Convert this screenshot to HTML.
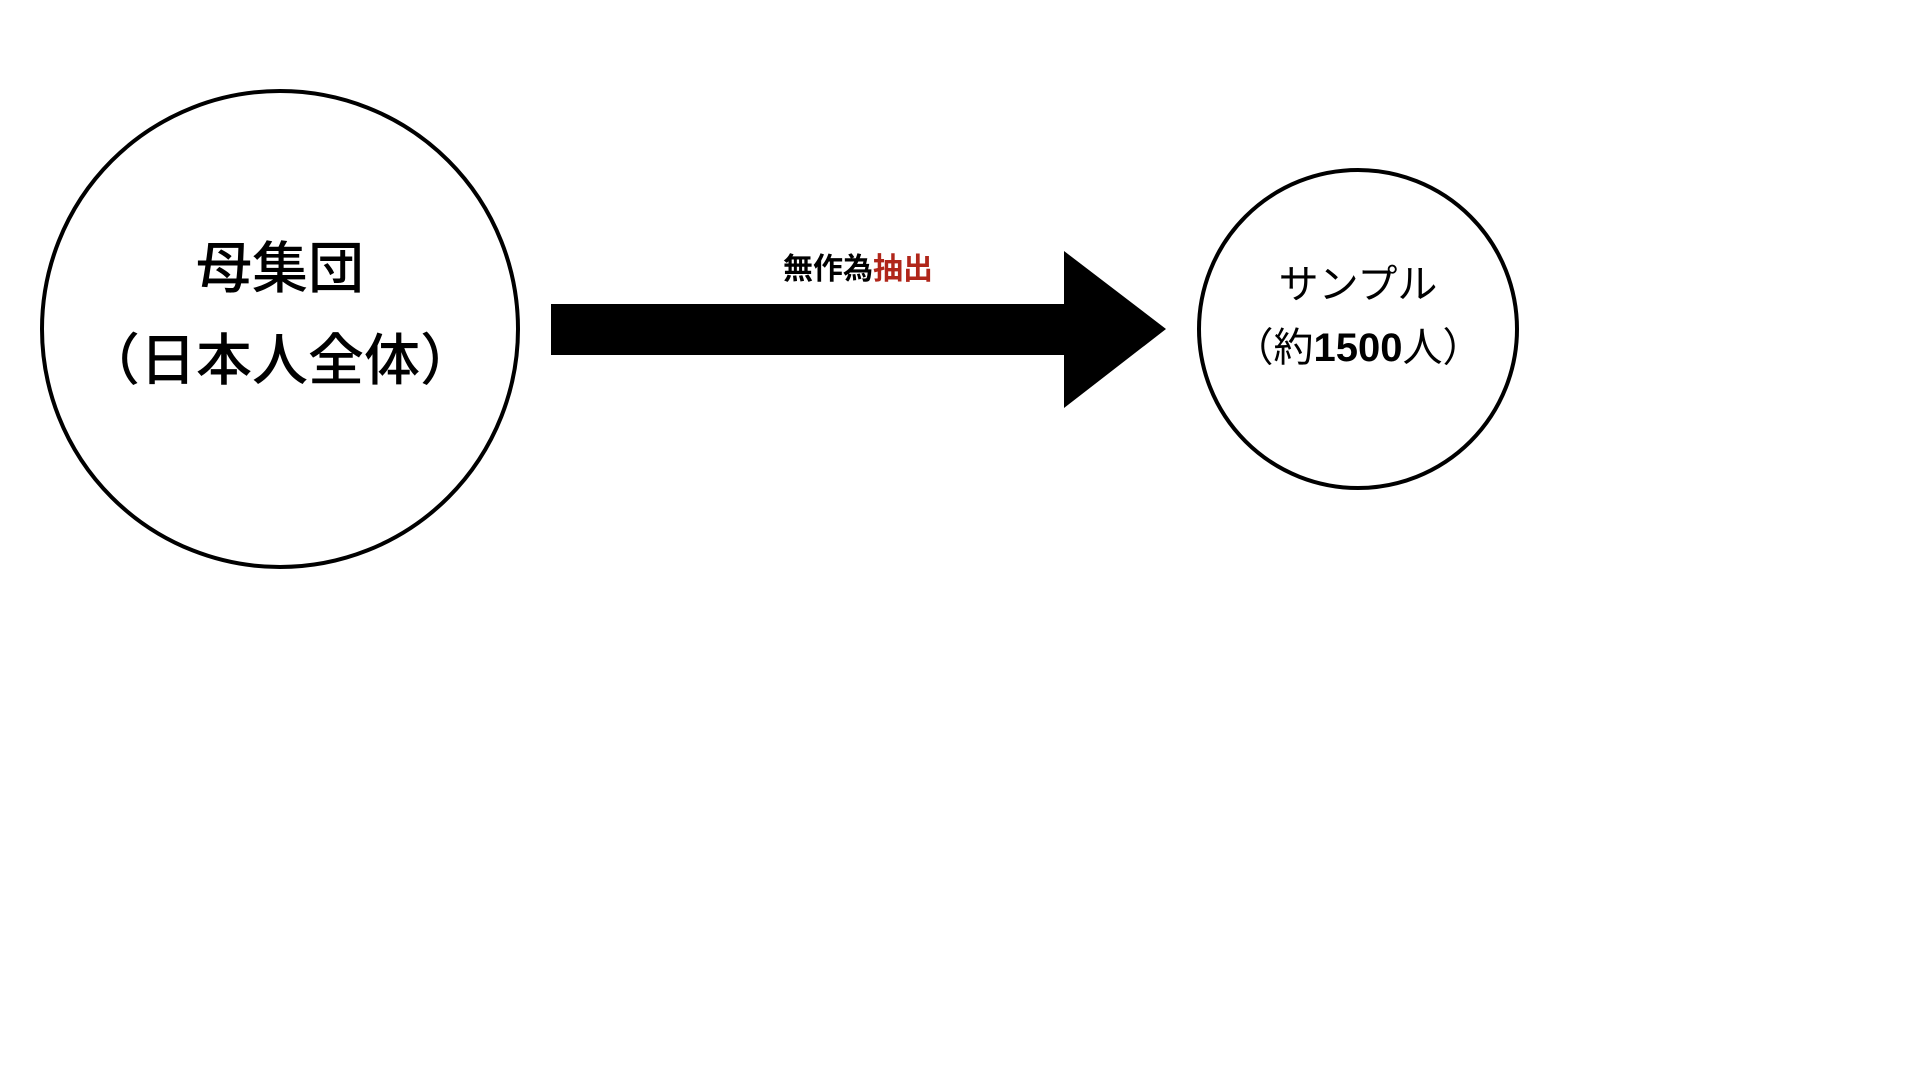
<!DOCTYPE html>
<html><head><meta charset="utf-8"><style>
html,body{margin:0;padding:0;background:#fff;width:1920px;height:1080px;overflow:hidden}
svg text{font-family:"Liberation Sans","Noto Sans CJK JP",sans-serif}
</style></head><body>
<svg width="1920" height="1080" viewBox="0 0 1920 1080" xmlns="http://www.w3.org/2000/svg">
<circle cx="280" cy="329" r="238" fill="none" stroke="#000" stroke-width="4"/>
<circle cx="1358" cy="329" r="159" fill="none" stroke="#000" stroke-width="4"/>
<polygon points="551,304 1064,304 1064,251 1166,329 1064,408 1064,355 551,355" fill="#000"/>
<text x="280" y="288" font-size="56" text-anchor="middle" font-weight="500">母集団</text>
<text x="280" y="380" font-size="56" text-anchor="middle" font-weight="500">（日本人全体）</text>
<text x="858" y="279" font-size="30" text-anchor="middle" font-weight="bold"><tspan fill="#000">無作為</tspan><tspan fill="#b0261a">抽出</tspan></text>
<text x="1358" y="298" font-size="40" text-anchor="middle">サンプル</text>
<text x="1358" y="361" font-size="40" text-anchor="middle">（約<tspan font-weight="bold">1500</tspan>人）</text>
</svg>
</body></html>
